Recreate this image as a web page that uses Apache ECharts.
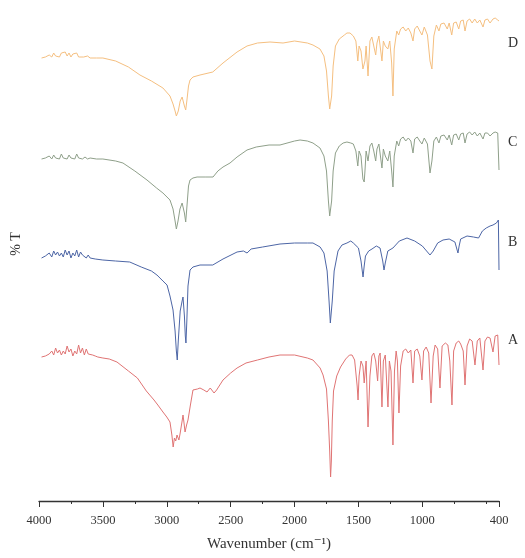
<!DOCTYPE html>
<html>
<head>
<meta charset="utf-8">
<script src="https://cdn.jsdelivr.net/npm/echarts@6/dist/echarts.min.js"></script>
<style>
  html, body { margin: 0; padding: 0; background: #fff; }
  #chart { width: 525px; height: 558px; }
</style>
</head>
<body>
<div id="chart"></div>
<script>
// tick positions (cm-1)
var majorTicks = [4000, 3500, 3000, 2500, 2000, 1500, 1000, 400];
var minorTicks = [3750, 3250, 2750, 2250, 1750, 1250, 750, 500];
var traceNames = ['A', 'B', 'C', 'D'];

// [wavenumber, offset %T]
var specA = [[3980,144],[3950,145],[3920,147],[3900,150],[3885,146],[3870,153],[3855,148],[3840,151],[3825,146],[3810,150],[3795,147],[3780,155],[3765,149],[3750,152],[3735,145],[3720,150],[3705,147],[3690,156],[3675,148],[3660,153],[3645,146],[3630,152],[3615,147],[3600,149],[3580,146],[3560,145],[3540,144],[3500,143],
  [3450,142],[3390,139],[3300,130],[3230,123],[3160,110],[3100,101],[3070,96],[3030,89],[3000,84],[2975,79],[2960,66],[2950,54],[2940,63],[2930,60],[2920,66],[2905,61],[2895,68],[2880,80],[2873,86],[2865,78],[2857,69],[2845,76],[2834,81],[2815,96],[2795,111],[2760,112],[2740,113],[2710,111],[2685,109],[2660,113],[2646,115],[2630,108],[2610,111],[2560,121],[2500,128],[2450,133],[2380,138],[2290,141],[2200,144],[2114,146],[2000,146],[1900,143],[1856,141],[1800,133],[1777,126],[1750,112],[1735,80],[1725,50],[1718,24],[1712,40],[1705,80],[1695,110],[1670,125],[1640,134],[1600,142],[1570,146],[1550,146],
  [1530,141],[1510,115],[1503,101],[1495,125],[1480,140],[1465,135],[1455,118],[1440,140],[1425,74],[1410,125],[1395,145],[1380,148],[1365,140],[1350,120],[1340,145],[1330,148],[1316,94],[1305,140],[1290,146],[1269,94],[1258,140],[1245,130],[1230,56],[1218,130],[1205,150],[1195,140],[1183,88],[1170,135],[1150,150],[1130,152],[1110,148],[1090,151],[1073,118],[1060,150],[1040,152],[1020,145],[1003,121],[990,150],[970,154],[950,148],[932,98],[915,145],[900,156],[880,152],[862,113],[845,155],[820,158],[800,156],[785,140],[768,96],[755,150],[735,158],[715,160],[700,157],[680,150],[666,116],[650,155],[630,162],[610,160],[588,136],[570,160],[550,163],[525,131],[510,160],[490,164],[470,163],[447,149],[430,165],[410,166],[402,168],[400,136]];

var specB = [[3980,243],[3950,245],[3920,248],[3900,244],[3885,250],[3870,246],[3855,249],[3840,245],[3825,248],[3810,244],[3795,251],[3780,246],[3765,250],[3750,243],[3735,248],[3720,245],[3705,251],[3690,244],[3675,249],[3660,246],[3645,248],[3630,243],[3615,246],[3600,243],[3560,242],[3500,241],
  [3400,240],[3290,239],[3200,234],[3120,230],[3077,226],[3030,220],[2998,216],[2975,205],[2951,191],[2935,170],[2925,150],[2918,141],[2910,160],[2895,190],[2880,200],[2873,204],[2862,185],[2855,165],[2850,158],[2843,180],[2834,215],[2818,231],[2795,234],[2740,236],[2640,236],[2560,242],[2450,249],[2400,250],[2372,248],[2340,252],[2250,254],[2114,257],[2000,258],[1900,258],[1856,258],[1800,254],[1770,248],[1745,230],[1730,200],[1720,178],[1713,178],[1705,200],[1690,230],[1660,250],[1629,256],[1590,258],[1560,260],[1540,258],
  [1500,253],[1480,240],[1464,224],[1455,235],[1445,245],[1420,250],[1394,252],[1360,255],[1331,253],[1310,240],[1300,231],[1290,238],[1270,250],[1230,253],[1180,260],[1120,263],[1060,260],[1000,255],[960,249],[940,246],[915,250],[880,258],[838,261],[790,262],[745,259],[730,252],[721,248],[712,255],[700,262],[650,265],[600,264],[560,263],[549,262],[530,270],[500,273],[470,275],[447,276],[420,278],[405,281],[402,281],[400,231]];

var specC = [[3980,342],[3950,343],[3920,345],[3900,342],[3885,346],[3870,343],[3855,345],[3840,342],[3825,347],[3810,343],[3795,345],[3780,342],[3765,346],[3750,343],[3735,345],[3720,342],[3705,347],[3690,343],[3675,345],[3660,342],[3640,344],[3620,342],[3600,343],[3550,342],[3500,342],
  [3400,340],[3343,338],[3250,330],[3155,321],[3080,313],[3030,308],[2975,301],[2951,292],[2935,280],[2925,272],[2920,271],[2912,280],[2897,292],[2880,298],[2873,299],[2862,288],[2852,279],[2845,290],[2830,315],[2818,321],[2795,323],[2763,324],[2700,324],[2638,324],[2600,330],[2560,334],[2505,338],[2450,344],[2372,351],[2300,354],[2200,356],[2114,356],[2000,360],[1957,361],[1900,360],[1856,358],[1801,353],[1770,345],[1750,330],[1735,300],[1725,285],[1718,284],[1710,300],[1698,330],[1680,348],[1650,355],[1620,358],[1590,359],[1560,358],[1540,357],
  [1520,350],[1505,335],[1495,350],[1480,345],[1465,322],[1455,319],[1449,330],[1440,350],[1425,340],[1410,355],[1395,358],[1380,350],[1365,340],[1355,352],[1340,357],[1316,333],[1305,352],[1290,345],[1270,340],[1255,350],[1240,330],[1230,314],[1220,345],[1200,360],[1185,355],[1170,362],[1150,364],[1130,360],[1110,363],[1090,360],[1073,348],[1060,362],[1040,364],[1020,360],[1003,357],[985,363],[960,357],[940,328],[925,340],[910,360],[890,364],[870,358],[855,365],[830,366],[805,361],[790,366],[770,356],[755,366],[735,367],[715,361],[700,367],[680,368],[666,358],[650,367],[630,369],[610,366],[590,369],[570,365],[550,368],[525,362],[510,368],[490,368],[470,365],[447,368],[430,369],[410,368],[402,370],[400,331]];

var specD = [[3980,443],[3950,444],[3920,446],[3900,444],[3885,448],[3870,445],[3855,447],[3840,444],[3825,448],[3810,446],[3795,449],[3780,445],[3765,448],[3750,444],[3735,447],[3720,445],[3705,448],[3690,444],[3675,446],[3650,444],[3620,445],[3600,443],[3550,443],[3500,443],
  [3400,440],[3300,434],[3210,426],[3120,420],[3030,413],[2975,405],[2951,397],[2935,390],[2925,385],[2918,383],[2910,390],[2895,400],[2880,404],[2873,405],[2862,395],[2852,391],[2843,400],[2830,415],[2818,421],[2795,424],[2740,426],[2640,429],[2560,438],[2450,449],[2372,455],[2290,458],[2192,459],[2090,458],[2000,460],[1900,458],[1856,456],[1801,452],[1770,445],[1750,430],[1735,405],[1725,392],[1718,391],[1710,405],[1698,435],[1680,455],[1650,462],[1610,466],[1590,468],[1566,468],[1540,465],
  [1520,460],[1505,440],[1495,455],[1480,450],[1465,432],[1455,430],[1449,440],[1440,455],[1425,425],[1410,460],[1395,464],[1380,455],[1365,446],[1355,458],[1340,465],[1316,440],[1305,460],[1290,455],[1270,452],[1255,460],[1240,438],[1230,405],[1220,452],[1200,470],[1185,466],[1170,472],[1150,474],[1130,470],[1110,473],[1090,468],[1073,460],[1060,472],[1040,475],[1020,470],[1003,466],[985,474],[960,466],[940,440],[925,432],[910,465],[890,476],[870,470],[855,477],[830,478],[805,472],[790,478],[770,466],[755,478],[735,479],[715,472],[700,480],[680,481],[666,470],[650,480],[630,482],[610,478],[590,482],[570,478],[550,481],[525,474],[510,481],[490,482],[470,478],[447,482],[430,483],[410,481],[400,480]];

var serif = '"Liberation Serif", "DejaVu Serif", serif';
var chart = echarts.init(document.getElementById('chart'));

function trace(name, data, color) {
  return {
    name: name,
    type: 'line',
    data: data,
    showSymbol: false,
    symbol: 'none',
    lineStyle: { color: color, width: 1 },
    silent: true
  };
}

function label(text, x, y) {
  return { type: 'text', left: x, top: y, style: { text: text, font: '14px ' + serif, fill: '#333' } };
}

var option = {
  animation: false,
  backgroundColor: '#fff',
  grid: { left: 39, right: 26, top: 0, bottom: 57 },
  xAxis: [
    {
      type: 'value',
      inverse: true,
      min: 400,
      max: 4000,
      name: 'Wavenumber (cm\u207B\u00B9)',
      nameLocation: 'middle',
      nameGap: 36,
      nameTextStyle: { fontFamily: serif, fontSize: 15, color: '#333' },
      axisLine: { lineStyle: { color: '#333', width: 1.3 } },
      axisTick: { customValues: majorTicks, length: 6, lineStyle: { color: '#333' } },
      axisLabel: {
        customValues: majorTicks,
        formatter: function (v) { return String(v); },
        fontFamily: serif, fontSize: 12.5, color: '#333', margin: 13
      },
      splitLine: { show: false }
    },
    {
      type: 'value',
      inverse: true,
      min: 400,
      max: 4000,
      position: 'bottom',
      axisLine: { show: false },
      axisTick: { customValues: minorTicks, length: 3, lineStyle: { color: '#333' } },
      axisLabel: { show: false },
      splitLine: { show: false }
    }
  ],
  yAxis: {
    type: 'value',
    min: 0,
    max: 501,
    axisLine: { show: false },
    axisTick: { show: false },
    axisLabel: { show: false },
    splitLine: { show: false }
  },
  graphic: [
    {
      type: 'text', x: 16, y: 244, rotation: Math.PI / 2,
      style: { text: '% T', font: '14px ' + serif, fill: '#333', align: 'center', verticalAlign: 'middle' }
    },
    label(traceNames[0], 508, 333),
    label(traceNames[1], 508, 235),
    label(traceNames[2], 508, 135),
    label(traceNames[3], 508, 36)
  ],
  series: [
    trace('A', specA, '#e07474'),
    trace('B', specB, '#4d66a6'),
    trace('C', specC, '#8fa08a'),
    trace('D', specD, '#f5bf80')
  ]
};

chart.setOption(option);
</script>
</body>
</html>
